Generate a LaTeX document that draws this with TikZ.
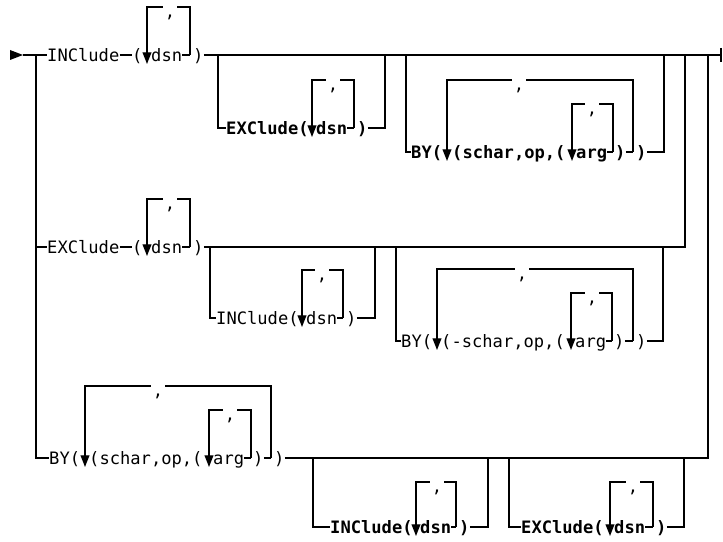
\documentclass[tikz,border=0pt]{standalone}
\usepackage{fontspec}
\newfontfamily\railfont{DejaVu Sans Mono}
\usetikzlibrary{arrows.meta}

\begin{document}
\begin{tikzpicture}[x=0.03cm, y=-0.03cm,
    rail/.style={line width=1.2pt},
    txt/.style={font=\railfont\fontsize{14.6}{16}\selectfont, inner sep=0pt,
      anchor=west, text height=10.6pt, text depth=0pt},
    heavy/.style={txt, font=\railfont\bfseries\fontsize{14.6}{16}\selectfont},
    sep/.style={txt, anchor=center, inner xsep=1.5pt},
    dnarrow/.style={-{Triangle[width=7.5pt,length=10pt]}}]
  \useasboundingbox (0,0) rectangle (723,542);

  % Start marker and end tick on the main line
  \fill (10,50) -- (23,55) -- (10,60) -- cycle;
  \coordinate (start) at (23,55);
  \coordinate (stop) at (721,55);
  \draw[rail] (721,48) -- (721,62);

  % Repeat loops: name/left bar/right bar/top/row/comma
  \foreach \n/\lx/\rx/\tp/\yr/\cx in {
      a/147/190/7/55/170, b/312/354/80/128/333,
      c/447/633/80/152/519, d/572/613/104/152/592,
      e/147/190/199/247/170, f/302/343/270/318/322,
      g/437/633/269/341/522, h/571/612/293/341/592,
      i/85/271/386/458/158, k/209/251/410/458/230,
      m/416/456/482/527/437, n/610/653/482/527/633}{
    \node[sep] (\n-c) at (\cx,\tp) {\raisebox{-4pt}{,}};
    \coordinate (\n-r) at (\rx,\yr);
    \draw[rail] (\n-c.east) -| (\n-r);
    \draw[rail,dnarrow] (\n-c.west) -| (\lx,\yr+9);
  }

  % Row one: INClude
  \coordinate (j0) at (36,55);
  \node[txt] (r1inc) at (47,55) {INClude};
  \node[txt] (r1lp) at (132,55) {(};
  \node[txt] (r1dsn) at (151,55) {dsn};
  \node[txt] (r1rp) at (193,55) {)};
  \draw[rail] (start) -- (r1inc.west);
  \draw[rail] (r1inc.east) -- (r1lp.west);
  \draw[rail] (r1dsn.east) -- (a-r);
  \draw[rail] (r1rp.east) -- (stop);

  % Row one: optional EXClude
  \coordinate (j1) at (218,55);
  \coordinate (j2) at (385,55);
  \node[heavy] (r1exc) at (226,128) {EXClude(};
  \node[heavy] (r1excdsn) at (316,128) {dsn};
  \node[heavy] (r1excrp) at (357,128) {)};
  \draw[rail] (j1) |- (r1exc.west);
  \draw[rail] (r1excdsn.east) -- (b-r);
  \draw[rail] (r1excrp.east) -| (j2);

  % Row one: optional BY
  \coordinate (j3) at (406,55);
  \coordinate (j4) at (664,55);
  \node[heavy] (r1by) at (411,152) {BY(};
  \node[heavy] (r1key) at (452,152) {(schar,op,(};
  \node[heavy] (r1arg) at (576,152) {arg};
  \node[heavy] (r1rpa) at (615,152) {)};
  \node[heavy] (r1rpb) at (636,152) {)};
  \draw[rail] (j3) |- (r1by.west);
  \draw[rail] (r1arg.east) -- (d-r);
  \draw[rail] (r1rpa.east) -- (c-r);
  \draw[rail] (r1rpb.east) -| (j4);

  % Row two: EXClude
  \coordinate (j5) at (36,247);
  \coordinate (j6) at (685,55);
  \node[txt] (r2exc) at (47,247) {EXClude};
  \node[txt] (r2lp) at (132,247) {(};
  \node[txt] (r2dsn) at (151,247) {dsn};
  \node[txt] (r2rp) at (193,247) {)};
  \draw[rail] (j5) -- (r2exc.west);
  \draw[rail] (r2exc.east) -- (r2lp.west);
  \draw[rail] (r2dsn.east) -- (e-r);
  \draw[rail] (r2rp.east) -| (j6);

  % Row two: optional INClude
  \coordinate (j7) at (210,247);
  \coordinate (j8) at (375,247);
  \node[txt] (r2inc) at (216,318) {INClude(};
  \node[txt] (r2incdsn) at (306,318) {dsn};
  \node[txt] (r2incrp) at (346,318) {)};
  \draw[rail] (j7) |- (r2inc.west);
  \draw[rail] (r2incdsn.east) -- (f-r);
  \draw[rail] (r2incrp.east) -| (j8);

  % Row two: optional BY
  \coordinate (j9) at (396,247);
  \coordinate (j10) at (663,247);
  \node[txt] (r2by) at (401,341) {BY(};
  \node[txt] (r2key) at (441,341) {(-schar,op,(};
  \node[txt] (r2arg) at (575,341) {arg};
  \node[txt] (r2rpa) at (614,341) {)};
  \node[txt] (r2rpb) at (636,341) {)};
  \draw[rail] (j9) |- (r2by.west);
  \draw[rail] (r2arg.east) -- (h-r);
  \draw[rail] (r2rpa.east) -- (g-r);
  \draw[rail] (r2rpb.east) -| (j10);

  % Row three: BY
  \coordinate (j11) at (36,458);
  \coordinate (j12) at (708,55);
  \node[txt] (r3by) at (49,458) {BY(};
  \node[txt] (r3key) at (89,458) {(schar,op,(};
  \node[txt] (r3arg) at (213,458) {arg};
  \node[txt] (r3rpa) at (253,458) {)};
  \node[txt] (r3rpb) at (274,458) {)};
  \draw[rail] (j0) -- (j11) -- (r3by.west);
  \draw[rail] (r3arg.east) -- (k-r);
  \draw[rail] (r3rpa.east) -- (i-r);
  \draw[rail] (r3rpb.east) -| (j12);

  % Row three: optional INClude and EXClude
  \coordinate (j13) at (313,458);
  \coordinate (j14) at (488,458);
  \coordinate (j15) at (509,458);
  \coordinate (j16) at (684,458);
  \node[heavy] (r3inc) at (330,527) {INClude(};
  \node[heavy] (r3incdsn) at (420,527) {dsn};
  \node[heavy] (r3incrp) at (459,527) {)};
  \node[heavy] (r3exc) at (521,527) {EXClude(};
  \node[heavy] (r3excdsn) at (614,527) {dsn};
  \node[heavy] (r3excrp) at (656,527) {)};
  \draw[rail] (j13) |- (r3inc.west);
  \draw[rail] (r3incdsn.east) -- (m-r);
  \draw[rail] (r3incrp.east) -| (j14);
  \draw[rail] (j15) |- (r3exc.west);
  \draw[rail] (r3excdsn.east) -- (n-r);
  \draw[rail] (r3excrp.east) -| (j16);
\end{tikzpicture}
\end{document}
